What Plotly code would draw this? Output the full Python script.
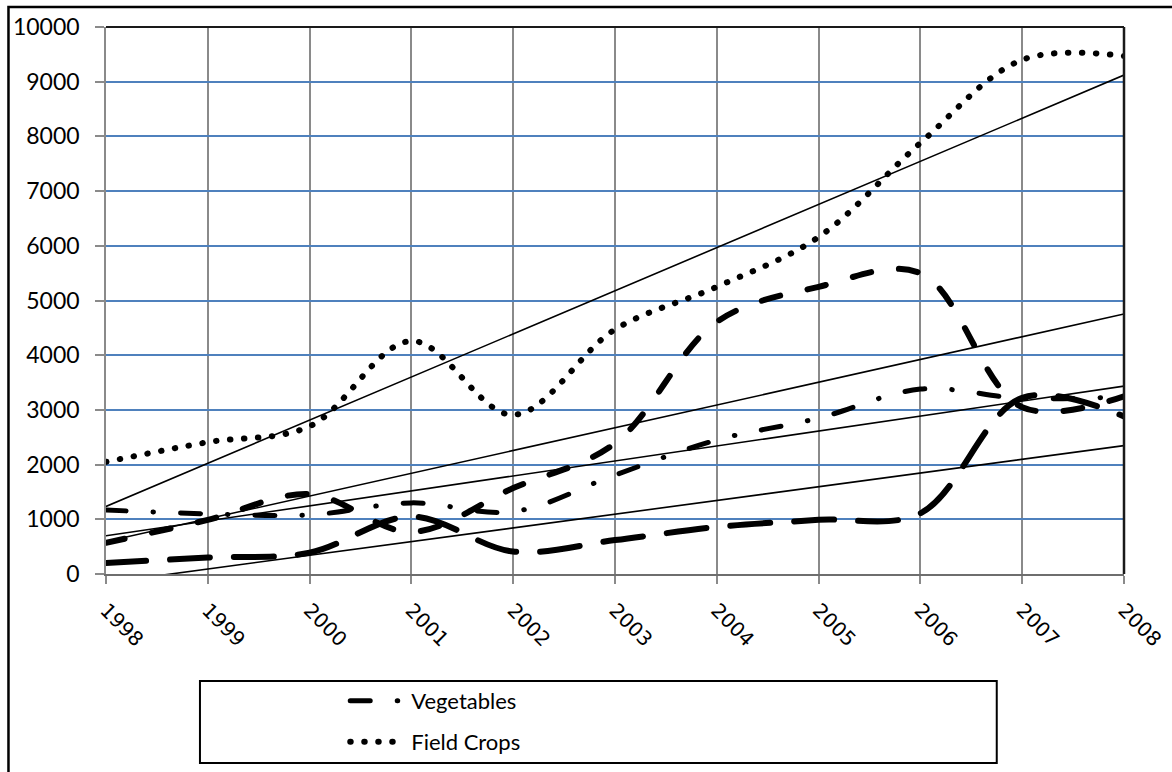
"""
Smoothed line chart with linear trend lines, Excel look
"""

import numpy as np
import plotly.graph_objects as go

# Years on the x axis
years = [1998, 1999, 2000, 2001, 2002, 2003, 2004, 2005, 2006, 2007, 2008]

# Series values
field_crops = [2050, 2410, 2700, 4260, 2910, 4470, 5250, 6160, 7880, 9400, 9470]
vegetables = [1170, 1100, 1080, 1300, 1140, 1810, 2450, 2850, 3380, 3210, 3240]
series_3 = [570, 990, 1460, 770, 1570, 2390, 4610, 5250, 5500, 3050, 3250]
series_4 = [200, 300, 390, 1050, 410, 620, 860, 990, 1110, 3220, 2880]

y_ticks = list(range(0, 10001, 1000))
y_labels = [str(v) for v in y_ticks]

fig = go.Figure()

# Lignes de tendance linéaires (comme Excel)
for serie in [field_crops, vegetables, series_3, series_4]:
    coef = np.polyfit(years, serie, 1)
    ends = [years[0], years[-1]]
    fig.add_trace(go.Scatter(
        x=ends, y=np.polyval(coef, ends).tolist(), mode='lines',
        line=dict(color='black', width=1.6), showlegend=False, hoverinfo='skip'
    ))

# Séries principales, lissées
fig.add_trace(go.Scatter(
    x=years, y=series_4, mode='lines', name='Series 4', showlegend=False,
    line=dict(color='black', width=6, shape='spline', smoothing=1, dash='40px,24px')
))
fig.add_trace(go.Scatter(
    x=years, y=series_3, mode='lines', name='Series 3', showlegend=False,
    line=dict(color='black', width=6, shape='spline', smoothing=1, dash='19px,28px')
))
fig.add_trace(go.Scatter(
    x=years, y=vegetables, mode='lines', name='Vegetables', legend='legend',
    line=dict(color='black', width=5, shape='spline', smoothing=1,
              dash='20px,27px,0.5px,27px')
))
fig.add_trace(go.Scatter(
    x=years, y=field_crops, mode='lines', name='Field Crops', legend='legend2',
    line=dict(color='black', width=6, shape='spline', smoothing=1, dash='0.5px,13.5px')
))

legend_style = dict(
    xanchor='left', yanchor='middle', bgcolor='rgba(0,0,0,0)', borderwidth=0,
    font=dict(family='Lato, sans-serif', size=22, color='black'), itemwidth=56
)

fig.update_layout(
    width=1172, height=772,
    margin=dict(l=106, r=48, t=27, b=198, autoexpand=False),
    plot_bgcolor='white', paper_bgcolor='white',
    legend=dict(x=0.235, y=-0.232, **legend_style),
    legend2=dict(x=0.235, y=-0.307, **legend_style),
    shapes=[
        # cadre extérieur du graphique
        dict(type='rect', xref='paper', yref='paper', x0=-0.0958, x1=2, y0=-2, y1=1.0366,
             line=dict(color='black', width=2.5)),
        # cadre de la légende
        dict(type='rect', xref='paper', yref='paper', x0=0.0923, x1=0.875, y0=-0.3455, y1=-0.1956,
             line=dict(color='black', width=2)),
        # bord haut et droit de la zone de tracé
        dict(type='line', xref='x domain', yref='y domain', x0=0, x1=1, y0=1, y1=1,
             line=dict(color='#1a1a1a', width=2)),
        dict(type='line', xref='x domain', yref='y domain', x0=1, x1=1, y0=0, y1=1,
             line=dict(color='#1a1a1a', width=2.5)),
    ],
)

fig.update_xaxes(
    range=[1998, 2008], tickvals=years, tickangle=45, automargin=False,
    showgrid=True, gridcolor='#8a8a8a', gridwidth=1.6, zeroline=False,
    ticks='outside', ticklen=8, tickcolor='#8a8a8a', tickwidth=1.5,
    showline=True, linecolor='#6e6e6e', linewidth=1.5, ticklabelstandoff=7,
    tickfont=dict(family='DejaVu Sans, sans-serif', size=20, color='black')
)
fig.update_yaxes(
    range=[0, 10000], tickvals=y_ticks, ticktext=y_labels, automargin=False,
    showgrid=True, gridcolor='#4f81bd', gridwidth=1.6, zeroline=False,
    ticks='outside', ticklen=9, tickcolor='#8a8a8a', tickwidth=1.5,
    showline=True, linecolor='#8a8a8a', linewidth=1.5, ticklabelstandoff=11,
    tickfont=dict(family='Lato, sans-serif', size=23, color='black')
)

# marge de page nulle + bouts arrondis pour les pointillés (points ronds comme dans Excel)
css = """
var st = document.createElement('style');
st.innerHTML = 'body { margin: 0; } .js-plotly-plot path.js-line { stroke-linecap: round; }';
document.head.appendChild(st);
"""

fig.write_html("out.html", post_script=css, config={'displayModeBar': False})
